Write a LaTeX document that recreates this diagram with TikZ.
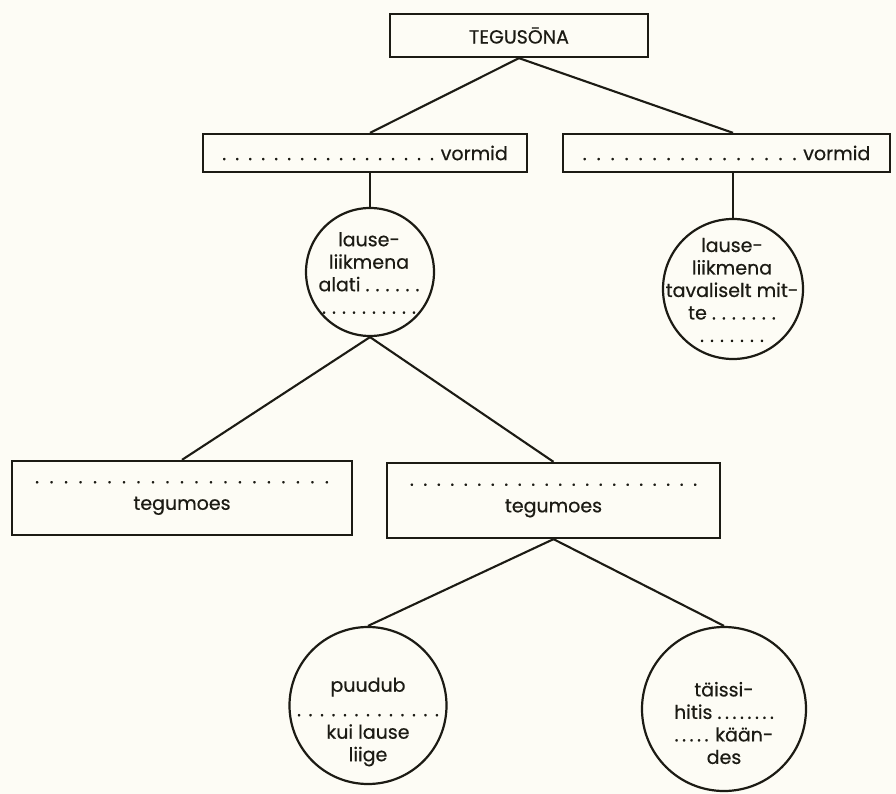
\documentclass[tikz,border=0pt]{standalone}
\usepackage{fontspec}
\setmainfont{Poppins}[FakeBold=0.5]
\definecolor{paper}{RGB}{253,252,245}
\definecolor{ink}{RGB}{28,27,20}
\newcommand\dts[2][6pt]{.\foreach\i in {2,...,#2}{\kern#1.}}
\begin{document}
\begin{tikzpicture}[x=1pt,y=-1pt,
  every node/.style={font=\fontsize{19}{22.5}\selectfont,text=ink},
  box/.style={draw=ink,line width=2.3pt,rectangle,inner sep=0pt,align=center},
  ring/.style={draw=ink,line width=2.2pt,circle,inner sep=0pt},
  txt/.style={align=center,inner sep=0pt},
  link/.style={draw=ink,line width=2.1pt}]
\fill[paper] (0,0) rectangle (896,794);
\useasboundingbox (0,0) rectangle (896,794);

\node[box,minimum width=258pt,minimum height=43pt] (top) at (519,35.5) {TEGUSŌNA};

\node[box,minimum width=324pt,minimum height=38pt] (v1) at (365,153) {\dts[9pt]{17} vormid};
\node[box,minimum width=327pt,minimum height=38pt] (v2) at (726.5,153) {\dts[10pt]{16} vormid};

\node[ring,minimum size=128pt] (c1) at (370,272) {};
\node[txt] (c1t) at (369,273) {lause-\\liikmena\\alati \dts[6pt]{6}\\\dts[6pt]{10}};

\node[ring,minimum size=140pt] (c2) at (733,289) {};
\node[txt] (c2t) at (732,290) {lause-\\liikmena\\tavaliselt mit-\\te \dts[6pt]{7}\\\dts[6pt]{7}};

\node[box,minimum width=340pt,minimum height=74pt] (t1) at (182,498) {\dts[10.5pt]{21}\\[4pt]tegumoes};
\node[box,minimum width=333pt,minimum height=75pt] (t2) at (553.5,500.5) {\dts[9.5pt]{22}\\[4pt]tegumoes};

\node[ring,minimum size=157pt] (c3) at (368,705.5) {};
\node[txt] (c3t) at (368,722) {puudub\\[2pt]\dts[7.5pt]{13}\\kui lause\\liige};

\node[ring,minimum size=164pt] (c4) at (724,709) {};
\node[txt] (c4t) at (724,723) {täissi-\\hitis \dts[3.5pt]{8}\\\dts[3.5pt]{5} kään-\\des};

\draw[link] (top.south) -- (v1.north -| c1.north);
\draw[link] (top.south) -- (v2.north -| c2.north);
\draw[link] (v1.south -| c1.north) -- (c1.north);
\draw[link] (v2.south -| c2.north) -- (c2.north);
\draw[link] (c1.south) -- (t1.north);
\draw[link] (c1.south) -- (t2.north);
\draw[link] (t2.south) -- (c3.north);
\draw[link] (t2.south) -- (c4.north);
\end{tikzpicture}
\end{document}
